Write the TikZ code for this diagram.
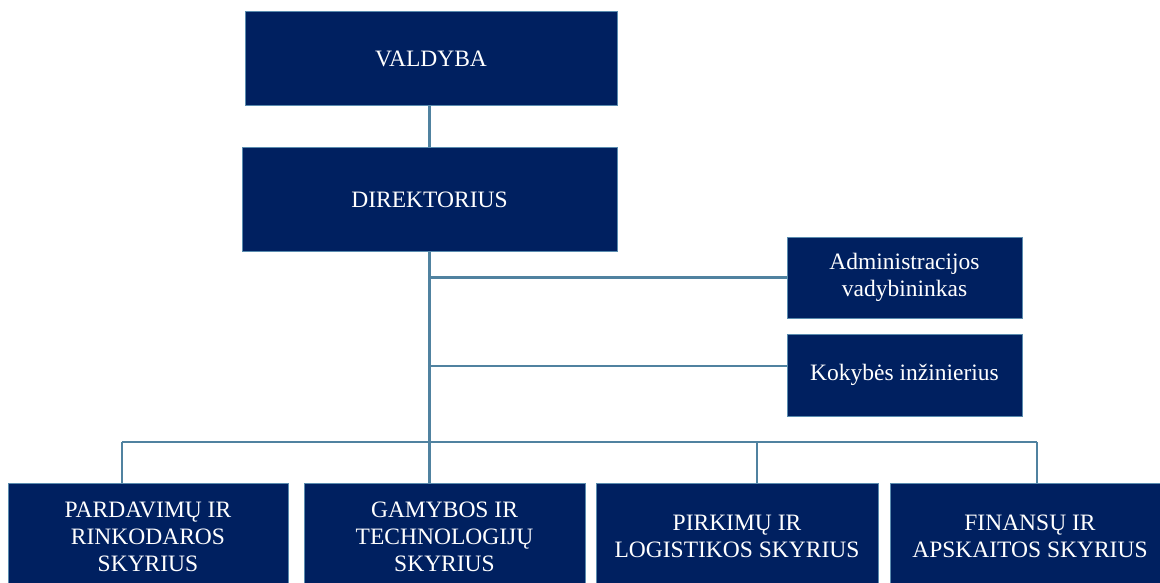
\documentclass[tikz,border=0pt]{standalone}
\usepackage{fontspec}
\setmainfont{Liberation Serif}
\newfontfamily\boxfont{Liberation Serif}
\definecolor{boxfill}{RGB}{0,32,96}
\definecolor{boxline}{RGB}{90,140,175}
\definecolor{conn}{RGB}{80,130,160}
\begin{document}
\begin{tikzpicture}[x=1pt,y=-1pt,
  orgbox/.style={rectangle,fill=boxfill,draw=boxline,line width=1pt,inner sep=0pt,
    text=white,align=center,font=\boxfont\fontsize{23.5}{27}\selectfont},
  link/.style={draw=conn,line width=2.4pt}]
\useasboundingbox (0,0) rectangle (1160,583);
\clip (0,0) rectangle (1160,583);
\coordinate (k1) at (429.5,366);
\coordinate (d1) at (122,442);
\coordinate (d3) at (757,442);
\coordinate (d4) at (1037,442);
\node[orgbox,minimum width=372pt,minimum height=94pt] (valdyba) at (431,59) {VALDYBA};
\node[orgbox,minimum width=375pt,minimum height=103pt] (direktorius) at (429.5,199.5) {DIREKTORIUS};
\node[orgbox,minimum width=235pt,minimum height=81pt] (admin) at (904.5,277.5) {Administracijos\\vadybininkas};
\node[orgbox,minimum width=235pt,minimum height=82pt] (kokybe) at (904.5,375) {Kokybės inžinierius};
\node[orgbox,minimum width=280pt,minimum height=107pt] (p1) at (148,536.5) {PARDAVIMŲ IR\\RINKODAROS\\SKYRIUS};
\node[orgbox,minimum width=281pt,minimum height=107pt] (p2) at (444.5,536.5) {GAMYBOS IR\\TECHNOLOGIJŲ\\SKYRIUS};
\node[orgbox,minimum width=282pt,minimum height=107pt] (p3) at (737,536.5) {PIRKIMŲ IR\\LOGISTIKOS SKYRIUS};
\node[orgbox,minimum width=280pt,minimum height=107pt] (p4) at (1030,536.5) {FINANSŲ IR\\APSKAITOS SKYRIUS};
\draw[link] (direktorius.north) -- (direktorius.north |- valdyba.south);
\draw[link] (direktorius.south) -- (direktorius.south |- p2.north);
\draw[link] (direktorius.south |- admin.west) -- (admin.west);
\draw[link] (k1) -- (k1 -| kokybe.west);
\draw[link] (d1) -- (d4);
\draw[link] (d1) -- (d1 |- p1.north);
\draw[link] (d3) -- (d3 |- p3.north);
\draw[link] (d4) -- (d4 |- p4.north);
\end{tikzpicture}
\end{document}
